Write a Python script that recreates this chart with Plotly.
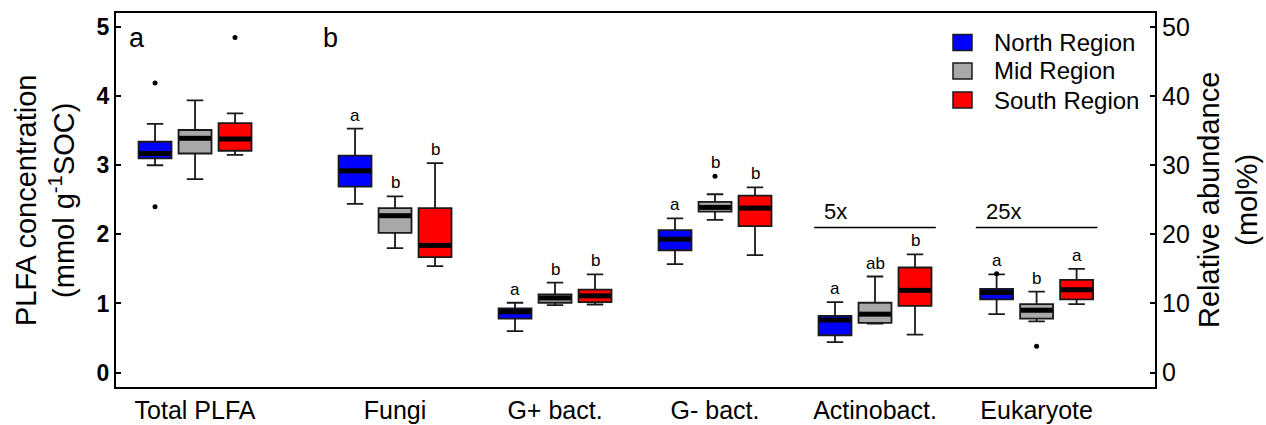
import plotly.graph_objects as go

# ---- data -------------------------------------------------------------
regions = ["North Region", "Mid Region", "South Region"]
region_colors = ["#0000FF", "#A9A9A9", "#FF0000"]

# Total PLFA (mmol g-1 SOC): [lower whisker, Q1, median, Q3, upper whisker]
total_north = [3.00, 3.10, 3.17, 3.34, 3.60]
total_mid = [2.80, 3.17, 3.39, 3.51, 3.94]
total_south = [3.15, 3.21, 3.38, 3.61, 3.75]
total_outliers_north = [4.19, 2.40]
total_outliers_mid = []
total_outliers_south = [4.85]

# Relative abundance (mol%); Actinobact. shown x5, Eukaryote shown x25
groups = ["Fungi", "G+ bact.", "G- bact.", "Actinobact.", "Eukaryote"]
north_stats = [
    [24.4, 26.9, 29.2, 31.4, 35.3],
    [6.0, 7.8, 8.8, 9.3, 10.1],
    [15.7, 17.7, 19.3, 20.6, 22.3],
    [4.4, 5.4, 7.6, 8.2, 10.2],
    [8.45, 10.6, 11.6, 12.1, 14.2],
]
mid_stats = [
    [18.0, 20.2, 22.7, 23.8, 25.5],
    [9.75, 10.1, 10.8, 11.3, 13.0],
    [22.1, 23.3, 23.9, 24.7, 25.8],
    [7.1, 7.2, 8.45, 10.1, 13.9],
    [7.4, 7.8, 9.0, 9.9, 11.7],
]
south_stats = [
    [15.4, 16.7, 18.4, 23.8, 30.3],
    [9.85, 10.2, 11.1, 12.0, 14.2],
    [17.0, 21.2, 23.8, 25.6, 26.8],
    [5.5, 9.65, 11.9, 15.2, 17.1],
    [9.9, 10.6, 12.0, 13.4, 15.0],
]
north_outliers = [[], [], [], [], [14.3]]
mid_outliers = [[], [], [28.4], [], [3.8]]
south_outliers = [[], [], [], [], []]

# Significance letters per group (North, Mid, South)
north_letters = ["a", "a", "a", "a", "a"]
mid_letters = ["b", "b", "b", "ab", "b"]
south_letters = ["b", "b", "b", "b", "a"]

scale_groups = ["Actinobact.", "Eukaryote"]
scale_labels = ["5x", "25x"]

# ---- layout constants -------------------------------------------------
FONT = "Liberation Sans, Arial, Helvetica, sans-serif"
W, H = 1266, 425
ML, MR, MT, MB = 116, 111, 13, 38
PLOT_W = W - ML - MR
PLOT_H = H - MT - MB

TOTAL_POS = 0.0
GROUP_POS = [1.25, 2.25, 3.25, 4.25, 5.26]
OFFSETS = [-0.25, 0.0, 0.25]
BOX_W = 0.206
Y_RANGE = [-0.209, 5.203]
Y2_RANGE = [v * 10 for v in Y_RANGE]
SCALE_LINE_LEVEL = 21.0
SCALE_HALF_SPAN = 0.38


def paper_x(px):
    return (px - ML) / PLOT_W


def paper_y(py):
    return (H - MB - py) / PLOT_H


totals = [total_north, total_mid, total_south]
total_outs = [total_outliers_north, total_outliers_mid, total_outliers_south]
stats = [north_stats, mid_stats, south_stats]
outs = [north_outliers, mid_outliers, south_outliers]
letters = [north_letters, mid_letters, south_letters]

fig = go.Figure()


def add_boxes(xs, st, color, yaxis):
    fig.add_trace(go.Box(
        x=xs,
        lowerfence=[s[0] for s in st],
        q1=[s[1] for s in st],
        median=[s[2] for s in st],
        q3=[s[3] for s in st],
        upperfence=[s[4] for s in st],
        width=BOX_W,
        whiskerwidth=0.5,
        fillcolor=color,
        line=dict(color="#1a1a1a", width=1.8),
        boxpoints=False,
        showlegend=False,
        hoverinfo="skip",
        yaxis=yaxis,
    ))
    # thick median bars
    mx, my = [], []
    for x, s in zip(xs, st):
        mx += [x - BOX_W / 2 + 0.004, x + BOX_W / 2 - 0.004, None]
        my += [s[2], s[2], None]
    fig.add_trace(go.Scatter(
        x=mx, y=my, mode="lines", line=dict(color="black", width=5),
        showlegend=False, hoverinfo="skip", yaxis=yaxis,
    ))


def add_outliers(xs, ol, yaxis):
    px, py = [], []
    for x, o in zip(xs, ol):
        for v in o:
            px.append(x)
            py.append(v)
    if px:
        fig.add_trace(go.Scatter(
            x=px, y=py, mode="markers",
            marker=dict(color="black", size=5),
            showlegend=False, hoverinfo="skip", yaxis=yaxis,
        ))


for r in range(3):
    tx = [TOTAL_POS + OFFSETS[r]]
    add_boxes(tx, [totals[r]], region_colors[r], "y")
    add_outliers(tx, [total_outs[r]], "y")

    gx = [p + OFFSETS[r] for p in GROUP_POS]
    add_boxes(gx, stats[r], region_colors[r], "y2")
    add_outliers(gx, outs[r], "y2")

annotations = []
shapes = []

# significance letters above each box
for r in range(3):
    for g in range(len(groups)):
        top = max([stats[r][g][4]] + outs[r][g])
        annotations.append(dict(
            x=GROUP_POS[g] + OFFSETS[r], y=top, xref="x", yref="y2",
            text=letters[r][g], showarrow=False, yanchor="bottom", yshift=2,
            font=dict(size=17, color="black", family=FONT),
        ))

# scale-factor brackets
for g, lab in zip(scale_groups, scale_labels):
    c = GROUP_POS[groups.index(g)]
    shapes.append(dict(
        type="line", xref="x", yref="y2",
        x0=c - SCALE_HALF_SPAN, x1=c + SCALE_HALF_SPAN,
        y0=SCALE_LINE_LEVEL, y1=SCALE_LINE_LEVEL,
        line=dict(color="black", width=1.5),
    ))
    annotations.append(dict(
        x=c - SCALE_HALF_SPAN + 0.05, y=SCALE_LINE_LEVEL, xref="x", yref="y2",
        text=lab, showarrow=False, xanchor="left", yanchor="bottom", yshift=1,
        font=dict(size=22, color="black", family=FONT),
    ))

# legend: filled squares with labels
LEG_ROWS = [42.5, 71.0, 100.0]
for name, color, cy in zip(regions, region_colors, LEG_ROWS):
    shapes.append(dict(
        type="rect", xref="paper", yref="paper",
        x0=paper_x(953), x1=paper_x(972),
        y0=paper_y(cy + 8), y1=paper_y(cy - 8),
        fillcolor=color, line=dict(color="#1a1a1a", width=1.5),
    ))
    annotations.append(dict(
        x=paper_x(992), y=paper_y(cy), xref="paper", yref="paper",
        text=name, showarrow=False, xanchor="left", yanchor="middle",
        font=dict(size=24, color="black", family=FONT),
    ))

# panel labels
annotations.append(dict(x=paper_x(127), y=paper_y(21), xref="paper", yref="paper",
                        text="a", showarrow=False, xanchor="left", yanchor="top",
                        font=dict(size=27, color="black", family=FONT)))
annotations.append(dict(x=paper_x(321), y=paper_y(21), xref="paper", yref="paper",
                        text="b", showarrow=False, xanchor="left", yanchor="top",
                        font=dict(size=27, color="black", family=FONT)))

# axis titles
annotations.append(dict(
    x=paper_x(45), y=0.5, xref="paper", yref="paper", textangle=-90,
    text="PLFA concentration<br>(mmol g<sup>-1</sup>SOC)",
    showarrow=False, xanchor="center", yanchor="middle",
    font=dict(size=29, color="black", family=FONT),
))
annotations.append(dict(
    x=paper_x(1228), y=0.5, xref="paper", yref="paper", textangle=-90,
    text="Relative abundance<br>(mol%)",
    showarrow=False, xanchor="center", yanchor="middle",
    font=dict(size=29, color="black", family=FONT),
))

fig.update_layout(
    template="none",
    width=W, height=H,
    margin=dict(l=ML, r=MR, t=MT, b=MB, pad=0),
    paper_bgcolor="white", plot_bgcolor="white",
    boxmode="overlay",
    showlegend=False,
    font=dict(family=FONT, color="black"),
    annotations=annotations,
    shapes=shapes,
    xaxis=dict(
        range=[-0.494, 6.0], automargin=False,
        tickvals=[TOTAL_POS] + GROUP_POS,
        ticktext=["Total PLFA"] + groups,
        ticks="", showgrid=False, zeroline=False,
        showline=True, linecolor="black", linewidth=2, mirror=True,
        tickfont=dict(size=25, family=FONT, color="black"),
    ),
    yaxis=dict(
        range=Y_RANGE, automargin=False, tickvals=[0, 1, 2, 3, 4, 5],
        ticks="inside", ticklen=5, tickwidth=1.5, tickcolor="black",
        showgrid=False, zeroline=False,
        showline=True, linecolor="black", linewidth=2, mirror=True,
        tickfont=dict(size=23, family=FONT, color="black", weight="bold"),
    ),
    yaxis2=dict(
        range=Y2_RANGE, automargin=False, tickvals=[0, 10, 20, 30, 40, 50],
        overlaying="y", side="right",
        ticks="inside", ticklen=5, tickwidth=1.5, tickcolor="black",
        showgrid=False, zeroline=False,
        showline=True, linecolor="black", linewidth=2,
        tickfont=dict(size=25, family=FONT, color="black"),
    ),
)

fig.write_html("out.html")
